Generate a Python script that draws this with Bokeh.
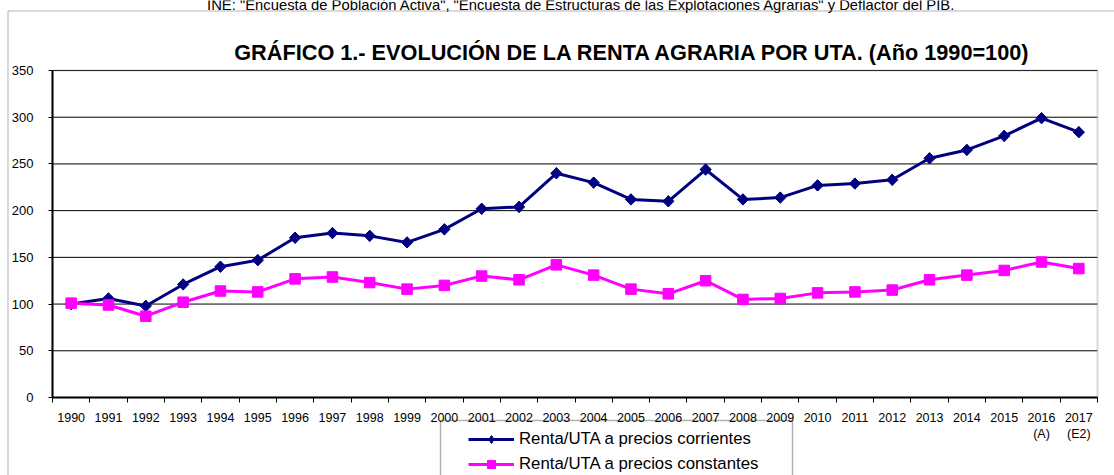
import math
from bokeh.plotting import figure
from bokeh.models import (Range1d, FixedTicker, Legend, LegendItem, Label,
                          BoxAnnotation)
from bokeh.embed import file_html
from bokeh.resources import INLINE

# ---- data -------------------------------------------------------------
years = ["1990", "1991", "1992", "1993", "1994", "1995", "1996", "1997",
         "1998", "1999", "2000", "2001", "2002", "2003", "2004", "2005",
         "2006", "2007", "2008", "2009", "2010", "2011", "2012", "2013",
         "2014", "2015", "2016", "2017"]
year_labels = years[:26] + ["2016\n(A)", "2017\n(E2)"]

corrientes = [100, 106, 98, 121, 140, 147, 171, 176, 173, 166, 180, 202,
              204, 240, 230, 212, 210, 244, 212, 214, 227, 229, 233, 256,
              265, 280, 299, 284]
constantes = [101, 99, 87, 102, 114, 113, 127, 129, 123, 116, 120, 130,
              126, 142, 131, 116, 111, 125, 105, 106, 112, 113, 115, 126,
              131, 136, 145, 138]

y_ticks = [0, 50, 100, 150, 200, 250, 300, 350]
title_text = "GRÁFICO 1.- EVOLUCIÓN DE LA RENTA AGRARIA POR UTA. (Año 1990=100)"
source_text = ('INE: "Encuesta de Población Activa", "Encuesta de Estructuras '
               'de las Explotaciones Agrarias" y Deflactor del PIB.')
label_corr = "Renta/UTA a precios corrientes"
label_const = "Renta/UTA a precios constantes"

# ---- styling / layout ---------------------------------------------------
FONT = "Liberation Sans"
NAVY = "#000080"
MAGENTA = "#FF00FF"

W, H = 1114, 475                     # canvas size
FL, FR, FT, FB = 52, 1097, 70, 397   # plot-area edges on the canvas (px)
n = len(years)
YMAX = y_ticks[-1]
px_x = (FR - FL) / n
px_y = (FB - FT) / YMAX
x_start = -0.5 - FL / px_x
x_end = n - 0.5 + (W - FR) / px_x
y_start = -(H - FB) / px_y
y_end = YMAX + FT / px_y


def cx(px):  # canvas x -> data x
    return x_start + px / px_x


def cy(py):  # canvas y (from top) -> data y
    return y_end - py / px_y


xs = list(range(n))

p = figure(width=W, height=H, output_backend="svg", toolbar_location=None,
           title=None, x_range=Range1d(x_start, x_end),
           y_range=Range1d(y_start, y_end),
           min_border_left=0, min_border_right=0, min_border_top=0,
           min_border_bottom=0, background_fill_color="white",
           border_fill_color="white")
p.outline_line_color = None
p.xgrid.visible = False
p.ygrid.visible = False

# grid lines across the plot area only
p.segment(x0=-0.5, x1=n - 0.5, y0=y_ticks, y1=y_ticks, line_color="black",
          line_width=1, level="underlay")

# plot-area frame (grey)
p.add_layout(BoxAnnotation(left=-0.5, right=n - 0.5, bottom=0, top=YMAX,
                           fill_alpha=0, line_color="#808080", line_width=2,
                           level="underlay"))

# outer chart border
p.add_layout(BoxAnnotation(left=cx(7.5), top=cy(10.5), right=x_end + 5,
                           bottom=y_start - 50, fill_alpha=0,
                           line_color="black", line_width=1))

# y axis
yax = p.yaxis[0]
yax.fixed_location = -0.5
yax.bounds = (0, YMAX)
yax.ticker = FixedTicker(ticks=y_ticks)
yax.axis_line_color = "black"
yax.axis_line_width = 2
yax.major_tick_out = 4
yax.major_tick_in = 0
yax.minor_tick_line_color = None
yax.major_label_text_font = FONT
yax.major_label_text_font_size = "13px"
yax.major_label_text_color = "black"
yax.major_label_standoff = 15

# x axis
xax = p.xaxis[0]
xax.fixed_location = 0
xax.bounds = (-0.5, n - 0.5)
xax.ticker = FixedTicker(ticks=xs, minor_ticks=[i - 0.5 for i in range(n + 1)])
xax.major_label_overrides = {i: lab for i, lab in enumerate(year_labels)}
xax.axis_line_color = "black"
xax.axis_line_width = 2
xax.major_tick_out = 0
xax.major_tick_in = 0
xax.minor_tick_out = 5
xax.minor_tick_in = 0
xax.minor_tick_line_color = "black"
xax.major_label_text_font = FONT
xax.major_label_text_font_size = "12.5px"
xax.major_label_text_color = "black"
xax.major_label_standoff = 8

# series
l1 = p.line(xs, corrientes, line_color=NAVY, line_width=3)
s1_key = p.scatter(xs, corrientes, marker="diamond", size=11,
                   fill_color=NAVY, line_color=NAVY)
s1 = p.scatter(xs, corrientes, marker="square", angle=math.pi / 4, size=8,
               fill_color=NAVY, line_color=NAVY)
l2 = p.line(xs, constantes, line_color=MAGENTA, line_width=3)
s2 = p.scatter(xs, constantes, marker="square", size=10.5,
               fill_color=MAGENTA, line_color=MAGENTA)

# legend box + legend
LB_L, LB_R, LB_T = 440, 792, 420
p.add_layout(BoxAnnotation(left=cx(LB_L), right=cx(LB_R), top=cy(LB_T),
                           bottom=y_start - 50, fill_alpha=0,
                           line_color="black", line_width=1.5))
legend = Legend(items=[LegendItem(label=label_corr, renderers=[l1, s1_key]),
                       LegendItem(label=label_const, renderers=[l2, s2])],
                location=(468, H - LB_T - 54), orientation="vertical",
                glyph_width=46, glyph_height=20, spacing=5, padding=4,
                margin=0, label_standoff=5, label_text_font=FONT,
                label_text_font_size="16.8px", label_text_color="black",
                border_line_color=None, background_fill_alpha=0)
p.add_layout(legend, "center")

# title
p.add_layout(Label(x=632.5, y=H - 52.3, x_units="screen", y_units="screen",
                   text=title_text, text_font=FONT, text_font_size="21.7px",
                   text_font_style="bold", text_align="center",
                   text_baseline="alphabetic", text_color="black"))

# source line at the very top (cut by the page edge, as in the original)
p.add_layout(Label(x=581, y=H - 4.5, x_units="screen", y_units="screen",
                   text=source_text, text_font=FONT, text_font_size="14.8px",
                   text_align="center", text_baseline="alphabetic",
                   text_color="black"))

open("out.html", "w").write(file_html(p, INLINE))
